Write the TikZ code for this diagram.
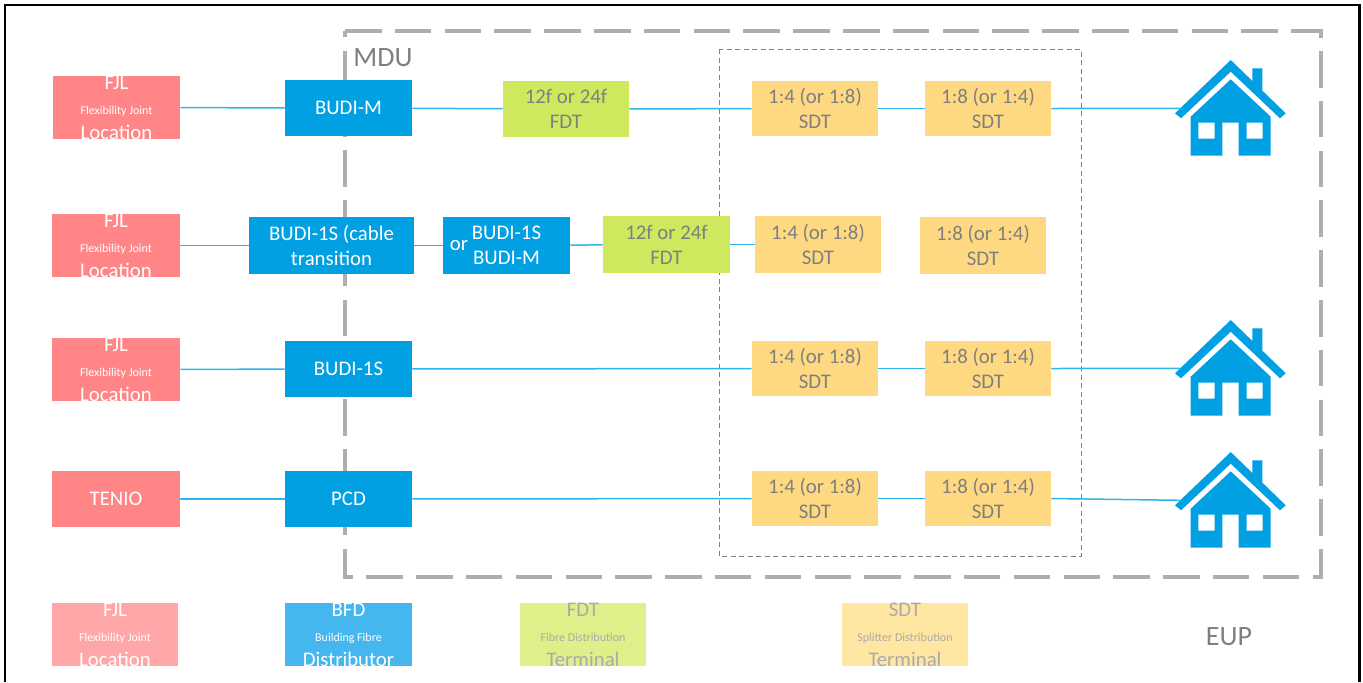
\documentclass[tikz,border=0pt]{standalone}
\usepackage{fontspec}
\setmainfont{Carlito}
\definecolor{cblue}{HTML}{00A0E3}
\definecolor{cline}{HTML}{2DB5EE}
\definecolor{cred}{HTML}{FF8587}
\definecolor{cgreen}{HTML}{CFE95F}
\definecolor{cyellow}{HTML}{FFD982}
\definecolor{lred}{HTML}{FFA6A9}
\definecolor{lblue}{HTML}{45B7EE}
\definecolor{lgreen}{HTML}{DEF08A}
\definecolor{lyellow}{HTML}{FFE6A3}
\definecolor{tgrey}{HTML}{7F7F7F}
\definecolor{lgrey}{HTML}{AAAAAA}
\definecolor{dgrey}{HTML}{AEAEAE}
\newcommand{\mainsz}{\fontsize{10.4}{12.5}\selectfont}
\newcommand{\smallsz}{\fontsize{6}{7.5}\selectfont}
\newcommand{\threeline}[3]{{\mainsz #1}\\\smallsz #2\\#3}
% \mybox{style}{name}{x1}{y1}{x2}{y2}{text}
\newcommand{\mybox}[7]{%
  \pgfmathsetmacro{\myboxw}{(#5-#3)*0.5}%
  \pgfmathsetmacro{\myboxh}{(#6-#4)*0.5}%
  \node[#1,minimum width=\myboxw pt,minimum height=\myboxh pt] (#2) at ({(#3+#5)/2},{(#4+#6)/2}) {#7};}
\tikzset{
  boxbase/.style={rectangle,inner sep=0pt,align=center,font=\mainsz},
  redbox/.style={boxbase,fill=cred,text=white},
  bluebox/.style={boxbase,fill=cblue,text=white},
  greenbox/.style={boxbase,fill=cgreen,text=tgrey},
  yellowbox/.style={boxbase,fill=cyellow,text=tgrey},
  lredbox/.style={boxbase,fill=lred,text=white},
  lbluebox/.style={boxbase,fill=lblue,text=white},
  lgreenbox/.style={boxbase,fill=lgreen,text=lgrey},
  lyellowbox/.style={boxbase,fill=lyellow,text=lgrey},
  link/.style={draw=cline,line width=0.75pt},
  frameline/.style={draw=black,line width=1.25pt},
  mduline/.style={draw=dgrey,line width=2pt,dash pattern=on 18.25pt off 6.65pt},
  innerline/.style={draw=gray,line width=0.45pt,dash pattern=on 2.5pt off 1.75pt},
  bigtext/.style={text=tgrey,font=\fontsize{14}{16}\selectfont,inner sep=0pt},
  house/.pic={
    \fill[cblue] (-55.7,53.3) -- (0,0) -- (55,53.3) -- (49.3,58.3) -- (0,11.7) -- (-49.7,58.3) -- cycle;
    \fill[cblue] (21.7,8.3) -- (31.7,8.3) -- (31.7,32) -- (21.7,22) -- cycle;
    \fill[cblue,even odd rule] (-40,56.7) -- (0,19.3) -- (40,56.7) -- (40,95.7) -- (8,95.7) -- (8,62.7) -- (-8.3,62.7) -- (-8.3,95.7) -- (-40,95.7) -- cycle
      (-32.3,62.7) rectangle (-16,78.7) (16,62.7) rectangle (32,78.7);
    \coordinate (-in) at (-50,48.3);
  }
}
\begin{document}
\begin{tikzpicture}[x=0.5pt,y=-0.5pt]
\useasboundingbox (0,0) rectangle (1363,682);
\draw[frameline] (5,682) -- (5,5) -- (1359.5,5) -- (1359.5,682);
\draw[mduline] (345,31) -- (1321,31) -- (1321,577) -- (345,577) -- cycle;
\draw[innerline] (719,49) rectangle (1081,556);
\node[bigtext] (mdu) at (383,58) {MDU};
% row 1
\mybox{redbox}{fa}{53}{79}{180}{136}{\threeline{FJL}{Flexibility Joint}{Location}}
\mybox{bluebox}{ba}{285}{80}{412}{136}{BUDI-M}
\mybox{greenbox}{da}{503}{81}{629}{137}{12f or 24f\\FDT}
\mybox{yellowbox}{sa}{752}{81}{878}{136}{1:4 (or 1:8)\\SDT}
\mybox{yellowbox}{ta}{925}{81}{1051}{136}{1:8 (or 1:4)\\SDT}
% row 2
\mybox{redbox}{fb}{52}{217}{180}{274}{\threeline{FJL}{Flexibility Joint}{Location}}
\mybox{bluebox}{bb}{249}{217}{414}{274}{BUDI-1S (cable\\transition}
\mybox{bluebox}{cb}{443}{217}{570}{274}{BUDI-1S\\BUDI-M}
\node[text=white,font=\mainsz,inner sep=0pt] (orb) at (459,246) {or};
\mybox{greenbox}{db}{603}{216}{730}{273}{12f or 24f\\FDT}
\mybox{yellowbox}{sb}{755}{216}{881}{273}{1:4 (or 1:8)\\SDT}
\mybox{yellowbox}{tb}{920}{217}{1046}{274}{1:8 (or 1:4)\\SDT}
% row 3
\mybox{redbox}{fc}{52}{341}{180}{398}{\threeline{FJL}{Flexibility Joint}{Location}}
\mybox{bluebox}{bc}{285}{341}{412}{397}{BUDI-1S}
\mybox{yellowbox}{sc}{752}{341}{878}{396}{1:4 (or 1:8)\\SDT}
\mybox{yellowbox}{tc}{925}{341}{1051}{396}{1:8 (or 1:4)\\SDT}
% row 4
\mybox{redbox}{fd}{52}{471}{180}{527}{TENIO}
\mybox{bluebox}{bd}{285}{471}{412}{527}{PCD}
\mybox{yellowbox}{sd}{752}{471}{878}{526}{1:4 (or 1:8)\\SDT}
\mybox{yellowbox}{td}{925}{471}{1051}{526}{1:8 (or 1:4)\\SDT}
% legend
\mybox{lredbox}{lf}{52}{606}{178}{663}{\threeline{FJL}{Flexibility Joint}{Location}}
\mybox{lbluebox}{lb}{285}{606}{412}{663}{\threeline{BFD}{Building Fibre}{Distributor}}
\mybox{lgreenbox}{ld}{520}{606}{646}{663}{\threeline{FDT}{Fibre Distribution}{Terminal}}
\mybox{lyellowbox}{ls}{842}{606}{968}{663}{\threeline{SDT}{Splitter Distribution}{Terminal}}
\node[bigtext] (eup) at (1229,637) {EUP};
% houses
\pic (ha) at (1230.7,60) {house};
\pic (hc) at (1230.7,320) {house};
\pic (hd) at (1230.7,452) {house};
% connectors
\draw[link] (fa) -- (ba);
\draw[link] (ba) -- (da);
\draw[link] (da) -- (sa);
\draw[link] (sa) -- (ta);
\draw[link] (ta.east) -- (ha-in);
\draw[link] (fb) -- (bb);
\draw[link] (bb) -- (cb);
\draw[link] (cb) -- (db);
\draw[link] (db) -- (sb);
\draw[link] (fc) -- (bc);
\draw[link] (bc) -- (sc);
\draw[link] (sc) -- (tc);
\draw[link] (tc.east) -- (hc-in);
\draw[link] (fd) -- (bd);
\draw[link] (bd) -- (sd);
\draw[link] (sd) -- (td);
\draw[link] (td.east) -- (hd-in);
\end{tikzpicture}
\end{document}
